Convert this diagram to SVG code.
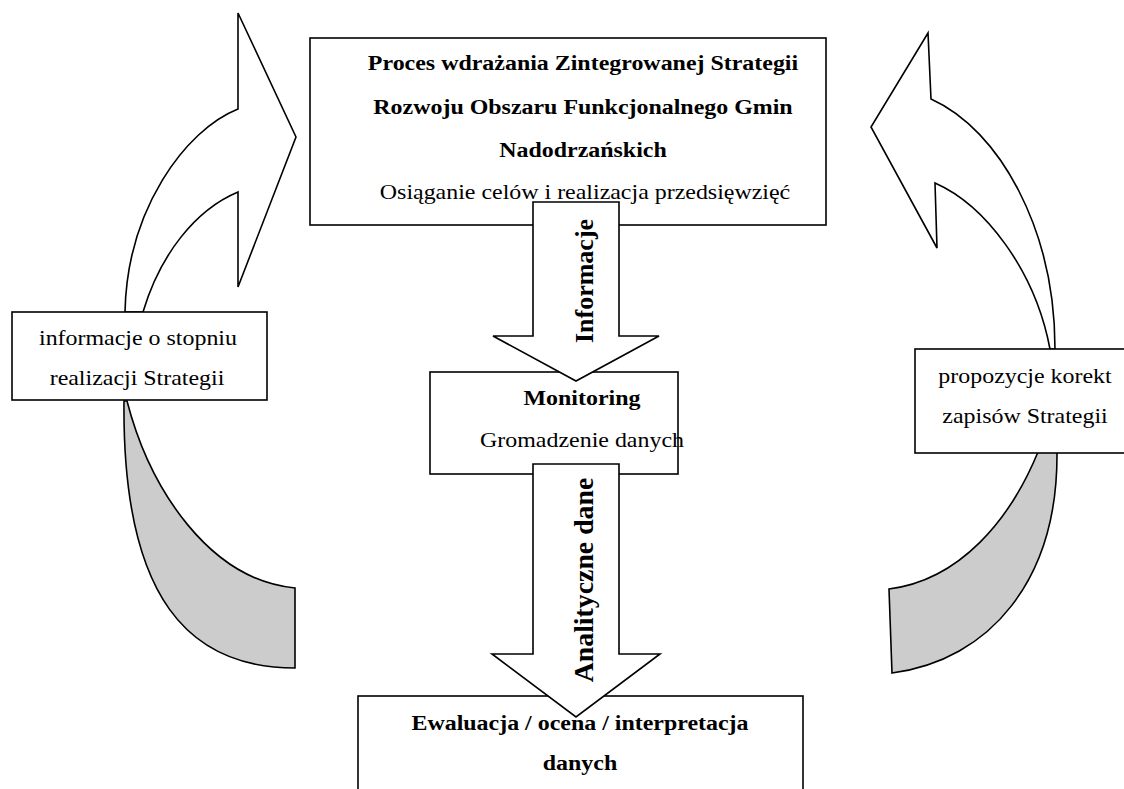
<svg xmlns="http://www.w3.org/2000/svg" width="1124" height="789" viewBox="0 0 1124 789">
<style>
.box{fill:#fff;stroke:#000;stroke-width:1.6}
.arr{fill:#fff;stroke:#000;stroke-width:1.6;stroke-linejoin:miter}
.gray{fill:#cccccc;stroke:#000;stroke-width:1.6}
text{font-family:"Liberation Serif","Times New Roman",serif;fill:#000;text-anchor:middle}
.b{font-weight:bold;font-size:21px}
.r{font-size:21px}
.v{font-weight:bold}
</style>
<rect width="1124" height="789" fill="#fff"/>
<g id="connectors">
  <path class="arr" d="M125,312 C127,210 185,130 238,109 L238,13 L296,137 L238,287 L238,192 C195,210 160,255 143,312 Z"/>
  <path class="gray" d="M124,401 C122,600 190,668 295,668 L295,588 C210,580 150,490 127,401 Z"/>
  <path class="arr" d="M1055,349 C1055,230 1000,130 931,99 L928,33 L871,127 L937,248 L935,183 C985,205 1035,270 1050,349 Z"/>
  <path class="gray" d="M1057,452 C1058,580 990,660 892,673 L889,589 C960,580 1010,520 1038,452 Z"/>
</g>
<g id="node-proces">
  <rect class="box" x="310" y="38" width="516" height="187"/>
</g>
<g id="node-monitoring">
  <rect class="box" x="430" y="372" width="248" height="102"/>
</g>
<g id="node-ewaluacja">
  <rect class="box" x="358" y="696" width="445" height="110"/>
</g>
<g id="node-informacje-stopien">
  <rect class="box" x="12" y="312" width="255" height="88"/>
  <text class="r" transform="matrix(1.14,0,0,1,138,345)">informacje o stopniu</text>
  <text class="r" transform="matrix(1.14,0,0,1,137,385)">realizacji Strategii</text>
</g>
<g id="node-propozycje">
  <rect class="box" x="915" y="349" width="220" height="104"/>
  <text class="r" transform="matrix(1.14,0,0,1,1025,383)">propozycje korekt</text>
  <text class="r" transform="matrix(1.14,0,0,1,1025,423)">zapisów Strategii</text>
</g>
<g id="center-arrows">
  <path class="arr" d="M533,202 L619,202 L619,336 L659,336 L576,381 L493,336 L533,336 Z"/>
  <text class="v" font-size="26" transform="translate(593,281) rotate(-90)">Informacje</text>
  <path class="arr" d="M533,464 L619,464 L619,654 L660,654 L576,717 L492,654 L533,654 Z"/>
  <text class="v" font-size="27.8" transform="translate(593,580) rotate(-90)">Analityczne dane</text>
</g>
<g id="labels">
  <text class="b" transform="matrix(1.14,0,0,1,583,70)">Proces wdrażania Zintegrowanej Strategii</text>
  <text class="b" transform="matrix(1.14,0,0,1,583,114)">Rozwoju Obszaru Funkcjonalnego Gmin</text>
  <text class="b" transform="matrix(1.14,0,0,1,583,157)">Nadodrzańskich</text>
  <text class="r" transform="matrix(1.14,0,0,1,585,199)">Osiąganie celów i realizacja przedsięwzięć</text>
  <text class="b" transform="matrix(1.14,0,0,1,582,405)">Monitoring</text>
  <text class="r" transform="matrix(1.14,0,0,1,582,447)">Gromadzenie danych</text>
  <text class="b" transform="matrix(1.14,0,0,1,580,730)">Ewaluacja / ocena / interpretacja</text>
  <text class="b" transform="matrix(1.14,0,0,1,580,770)">danych</text>
</g>
</svg>
